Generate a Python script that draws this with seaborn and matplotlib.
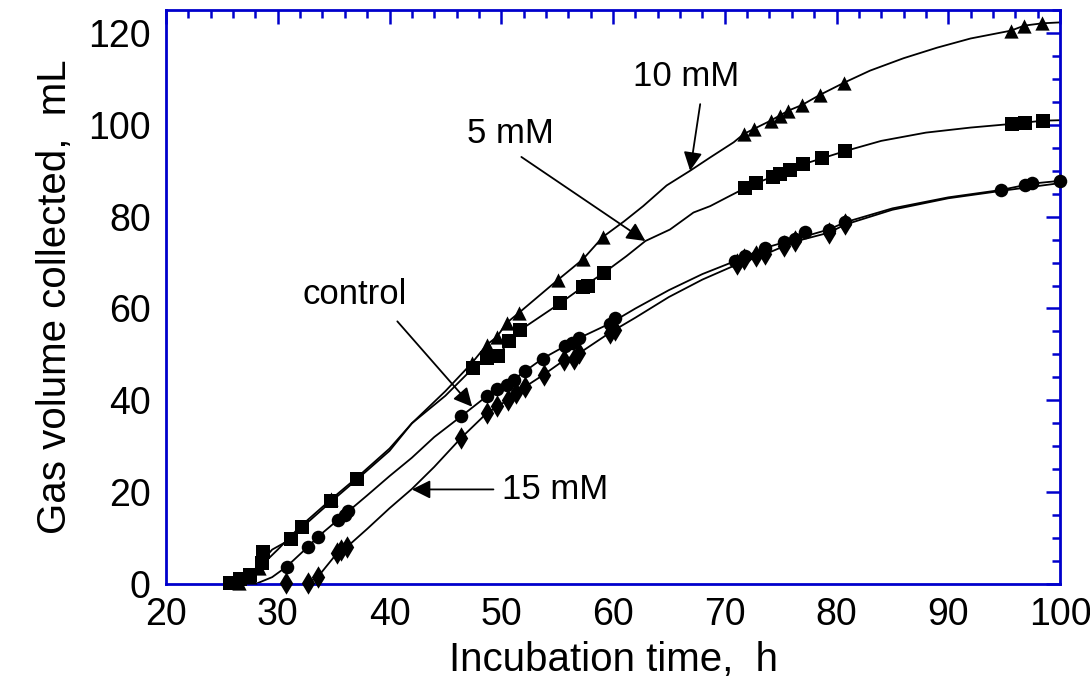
import matplotlib
matplotlib.use("Agg")
import matplotlib.pyplot as plt
import seaborn as sns
import pandas as pd
from matplotlib.ticker import MultipleLocator

# ---------------- data ----------------
# 10 mM (triangles)
t10_line = [26.5, 27.5, 28.3, 30, 32, 34.8, 37, 40, 42, 45, 47.4, 48.7, 49.6, 50.5, 51.6, 55.1, 57.3, 59.1,
            61, 62.7, 64.8, 66.9, 68.7, 70.8, 71.7, 72.6, 74.1, 74.9, 75.7, 76.9, 78.5, 80.7, 83, 86, 89, 92,
            95.6, 96.8, 98.4, 100]
v10_line = [0, 1.5, 3.5, 7.5, 12.5, 18.5, 23, 29.5, 35, 42, 48.2, 52.1, 53.8, 56.9, 59.1, 66.3, 70.7, 75.6,
            79, 82.3, 86.8, 90, 92.9, 96.2, 98, 99.1, 100.9, 102, 103.1, 104.3, 106.5, 109.2, 111.8, 114.5,
            116.8, 118.8, 120.5, 121.6, 122.1, 122.3]
t10_mark = [26.5, 27.5, 28.3, 34.8, 47.4, 48.7, 49.6, 50.5, 51.6, 55.1, 57.3, 59.1,
            71.7, 72.6, 74.1, 74.9, 75.7, 76.9, 78.5, 80.7, 95.6, 96.8, 98.4]
v10_mark = [0.3, 1.5, 3.5, 18.5, 48.2, 52.1, 53.8, 56.9, 59.1, 66.3, 70.7, 75.6,
            98, 99.1, 100.9, 102, 103.1, 104.3, 106.5, 109.2, 120.5, 121.6, 122.1]

# 5 mM (squares)
t5_line = [25.7, 26.6, 27.5, 28.6, 29.5, 31.2, 32.2, 34.8, 37.1, 40, 42, 45, 47.5, 48.7, 49.7, 50.7, 51.7,
           55.3, 57.3, 59.2, 61.2, 62.9, 65.1, 67.2, 68.7, 70.2, 71.8, 72.8, 74.3, 75.8, 77, 78.7, 80.8,
           84, 88, 92, 95.7, 96.9, 98.5, 100]
v5_line = [0, 1.2, 2, 5, 7.5, 9.8, 12.4, 18, 22.8, 29, 35, 41, 47.1, 49.2, 49.6, 52.9, 55.3,
           61.2, 64.7, 67.8, 71.4, 74.7, 77.2, 80.9, 82.3, 84.2, 86.2, 87.3, 88.7, 90.2, 91.4, 92.7, 94.3,
           96.5, 98.3, 99.4, 100.2, 100.5, 100.9, 101]
t5_mark = [25.7, 26.6, 27.5, 28.6, 28.7, 31.2, 32.2, 34.8, 37.1, 47.5, 48.7, 49.7, 50.7, 51.7, 55.3,
           57.3, 57.8, 59.2, 71.8, 72.8, 74.3, 74.9, 75.8, 77, 78.7, 80.8, 95.7, 96.9, 98.5]
v5_mark = [0.2, 1.2, 2, 4.6, 7, 9.8, 12.4, 18, 22.8, 47.1, 49.2, 49.6, 52.9, 55.3, 61.2,
           64.7, 65, 67.8, 86.2, 87.3, 88.7, 89.2, 90.2, 91.4, 92.7, 94.3, 100.2, 100.5, 100.9]

# control (circles)
tc_line = [28, 29.5, 30.8, 32.7, 33.6, 35.4, 36.3, 38, 40, 42, 44, 46.4, 48.7, 50.5, 52.1, 53.7, 55.7,
           57, 59.7, 62, 65, 68, 70.9, 73.6, 76.3, 79.3, 80.8, 85, 90, 94.7, 97.5, 100]
vc_line = [0, 1.5, 3.8, 8.1, 10.3, 14, 15.8, 19.3, 23.5, 27.5, 32, 36.5, 40.9, 43.4, 46.3, 49.1, 51.8,
           53.6, 56.7, 60, 64, 67.5, 70.3, 73.2, 75.1, 77.2, 78.8, 81.8, 84.2, 85.8, 87.2, 87.8]
tc_mark = [30.8, 32.7, 33.6, 35.4, 36, 36.3, 46.4, 48.7, 49.6, 50.5, 51.1, 52.1, 53.7, 55.7, 56.3, 57,
           59.7, 60.2, 70.9, 71.8, 73.6, 75.3, 76.3, 77.2, 79.3, 80.8, 94.7, 96.9, 97.5, 100]
vc_mark = [3.8, 8.1, 10.3, 14, 15.1, 15.8, 36.5, 40.9, 42.5, 43.4, 44.5, 46.3, 49.1, 51.8, 52.5, 53.6,
           56.7, 58, 70.3, 71.4, 73.2, 74.5, 75.1, 76.7, 77.2, 78.8, 85.8, 86.8, 87.3, 87.8]

# 15 mM (diamonds)
t15_line = [32.5, 33.6, 35.3, 36.2, 38, 40, 42, 44, 46.4, 48.7, 50.6, 52.1, 53.8, 55.6, 57, 59.7, 62,
            65, 68, 71.1, 73.6, 76.3, 79.3, 80.8, 85, 90, 95, 100]
v15_line = [0, 1.6, 6.7, 8.1, 12, 16.5, 20.7, 25.5, 31.8, 37.2, 40.1, 42.9, 45.6, 48.7, 50.3, 54.7, 58,
            62.5, 66.3, 69.6, 71.8, 74.6, 76.5, 78.3, 81.5, 84, 85.7, 87.3]
t15_mark = [30.7, 32.7, 33.6, 35.3, 35.7, 36.2, 46.4, 48.7, 49.6, 50.6, 51.3, 52.1, 53.8, 55.6, 56.5, 57,
            59.7, 60.2, 71.1, 71.7, 72.8, 73.6, 75.3, 76.3, 79.3, 80.8]
v15_mark = [0.2, 0.2, 1.6, 6.7, 7.4, 8.1, 31.8, 37.2, 38.8, 40.1, 41.6, 42.9, 45.6, 48.7, 49, 50.3,
            54.7, 55.4, 69.6, 70.7, 71.4, 71.8, 73.6, 74.6, 76.5, 78.3]

labels = ["10 mM", "5 mM", "control", "15 mM"]
x_ticks = [20, 30, 40, 50, 60, 70, 80, 90, 100]
y_ticks = [0, 20, 40, 60, 80, 100, 120]

# ---------------- plot ----------------
sns.set_theme(style="white")
plt.rcParams['font.family'] = ['Liberation Sans', 'DejaVu Sans']
plt.rcParams['text.color'] = 'black'
plt.rcParams['axes.labelcolor'] = 'black'
plt.rcParams['xtick.color'] = 'black'
plt.rcParams['ytick.color'] = 'black'

fig = plt.figure(figsize=(10.9, 6.85), dpi=100)
ax = fig.add_axes([0.1523, 0.1474, 0.8202, 0.8380])

series = [
    (t10_line, v10_line, t10_mark, v10_mark, "^", 105),
    (t5_line, v5_line, t5_mark, v5_mark, "s", 100),
    (tc_line, vc_line, tc_mark, vc_mark, "o", 95),
    (t15_line, v15_line, t15_mark, v15_mark, "d", 130),
]
for tl, vl, tm, vm, mk, sz in series:
    dfl = pd.DataFrame({"t": tl, "v": vl})
    sns.lineplot(data=dfl, x="t", y="v", sort=False, estimator=None, color="black",
                 linewidth=1.3, ax=ax)
    dfm = pd.DataFrame({"t": tm, "v": vm})
    sns.scatterplot(data=dfm, x="t", y="v", marker=mk, s=sz, color="black",
                    edgecolor="black", linewidth=0, ax=ax, zorder=3, clip_on=False)

ax.set_xlim(20, 100)
ax.set_ylim(0, 125)
ax.set_xticks(x_ticks)
ax.set_yticks(y_ticks)
ax.xaxis.set_minor_locator(MultipleLocator(2))
ax.yaxis.set_minor_locator(MultipleLocator(5))

blue = "#0000cc"
for sp in ax.spines.values():
    sp.set_color(blue)
    sp.set_linewidth(2)
ax.tick_params(which="both", direction="in", top=True, right=True, color=blue,
               width=1.8, labelsize=27, labelcolor="black")
ax.tick_params(which="major", length=10)
ax.tick_params(which="minor", length=6)
ax.tick_params(axis="y", pad=11)
ax.tick_params(axis="x", pad=9)

ax.set_xlabel("Incubation time,  h", fontsize=29, labelpad=6, color="black")
ax.set_ylabel("Gas volume collected,  mL", fontsize=29, labelpad=10, color="black")

arrow = dict(arrowstyle="-|>", color="black", lw=1.3, mutation_scale=28,
             shrinkA=0, shrinkB=0)
ax.annotate("", xy=(66.9, 90), xytext=(67.8, 104.5), arrowprops=arrow)
ax.text(66.5, 110.5, labels[0], fontsize=25, ha="center", va="center", color="black")
ax.annotate("", xy=(62.9, 74.7), xytext=(51.8, 93), arrowprops=arrow)
ax.text(50.8, 98, labels[1], fontsize=25, ha="center", va="center", color="black")
ax.annotate("", xy=(47.4, 38.6), xytext=(40.7, 57.2), arrowprops=arrow)
ax.text(36.9, 63, labels[2], fontsize=25, ha="center", va="center", color="black")
ax.annotate("", xy=(42.0, 20.6), xytext=(49.3, 20.6), arrowprops=arrow)
ax.text(54.8, 20.6, labels[3], fontsize=25, ha="center", va="center", color="black")

fig.savefig("out.png", dpi=100)
